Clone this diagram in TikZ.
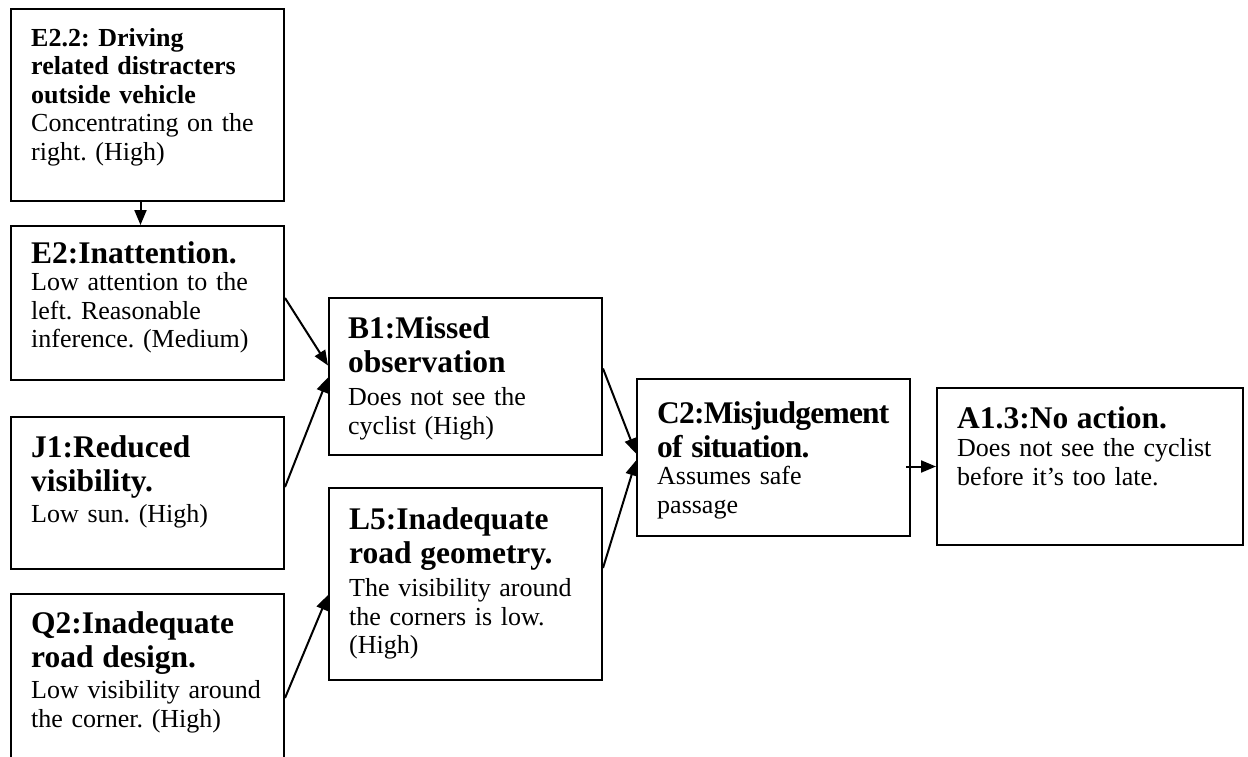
\documentclass[tikz,border=0pt]{standalone}
\usepackage{fontspec}
\setmainfont{Liberation Serif}
\usetikzlibrary{positioning,arrows.meta}

\newcommand{\headfont}{\fontsize{31.5}{34}\selectfont\bfseries}
\newcommand{\bodyfont}{\fontsize{26}{28.5}\selectfont}

\begin{document}
\begin{tikzpicture}[x=1pt, y=-1pt,
    box/.style={rectangle, draw, line width=2pt, minimum width=273pt, inner sep=0pt},
    txt/.style={inner sep=0pt, align=left, text width=290pt, font=\bodyfont\frenchspacing},
    arrow/.style={-{Triangle[length=15pt,width=12pt]}, line width=2pt}
]
\useasboundingbox (0,0) rectangle (1248,756);
\clip (0,0) rectangle (1248,756);

% Boxes
\node[box, minimum height=192pt] (e22) at (147.5,105) {};
\node[box, minimum height=154pt] (e2) at (147.5,303) {};
\node[box, minimum height=152pt] (j1) at (147.5,493) {};
\node[box, minimum height=180pt] (q2) at (147.5,684) {};
\node[box, minimum height=157pt] (b1) at (465.5,376.5) {};
\node[box, minimum height=192pt] (l5) at (465.5,584) {};
\node[box, minimum height=157pt] (c2) at (773.5,457.5) {};
\node[box, minimum width=306pt, minimum height=157pt] (a13) at (1090,466.5) {};

% Texts
\node[txt, below right=20pt and 21pt of e22.north west] (e22t)
  {\textbf{E2.2: Driving\\ related distracters\\ outside vehicle}\\ Concentrating on the\\ right. (High)};
\node[txt, below right=16pt and 21pt of e2.north west] (e2t)
  {{\headfont E2:Inattention.\par}\vspace{-1pt}Low attention to the\\ left. Reasonable\\ inference. (Medium)};
\node[txt, below right=19pt and 21pt of j1.north west] (j1t)
  {{\headfont J1:Reduced\\ visibility.\par}\vspace{3pt}Low sun. (High)};
\node[txt, below right=18pt and 21pt of q2.north west] (q2t)
  {{\headfont Q2:Inadequate\\ road design.\par}\vspace{3pt}Low visibility around\\ the corner. (High)};
\node[txt, below right=19pt and 20pt of b1.north west] (b1t)
  {{\headfont B1:Missed\\ observation\par}\vspace{5pt}Does not see the\\ cyclist (High)};
\node[txt, below right=20pt and 21pt of l5.north west] (l5t)
  {{\headfont L5:Inadequate\\ road geometry.\par}\vspace{5pt}The visibility around\\ the corners is low.\\ (High)};
\node[txt, below right=23pt and 21pt of c2.north west] (c2t)
  {{\headfont\addfontfeature{LetterSpace=-2.5}C2:Misjudgement\\ of situation.\par}\vspace{-1pt}Assumes safe\\ passage};
\node[txt, below right=19pt and 21pt of a13.north west] (a13t)
  {{\headfont A1.3:No action.\par}Does not see the cyclist\\ before it’s too late.};

% Arrows
\draw[arrow] ([xshift=-7pt]e22.south) -- ([xshift=-7pt]e2.north);
\draw[arrow] ([yshift=5pt]e2.east) -- ([yshift=11pt]b1.west);
\draw[arrow] ([yshift=6pt]j1.east) -- ([yshift=-1pt]b1.west);
\draw[arrow] ([yshift=-14pt]q2.east) -- ([yshift=-11pt]l5.west);
\draw[arrow] ([yshift=8pt]b1.east) -- ([yshift=4pt]c2.west);
\draw[arrow] ([yshift=16pt]l5.east) -- ([yshift=-3pt]c2.west);
\draw[arrow] (c2.east |- a13.west) ++(-5pt,0) -- (a13.west);

\end{tikzpicture}
\end{document}
